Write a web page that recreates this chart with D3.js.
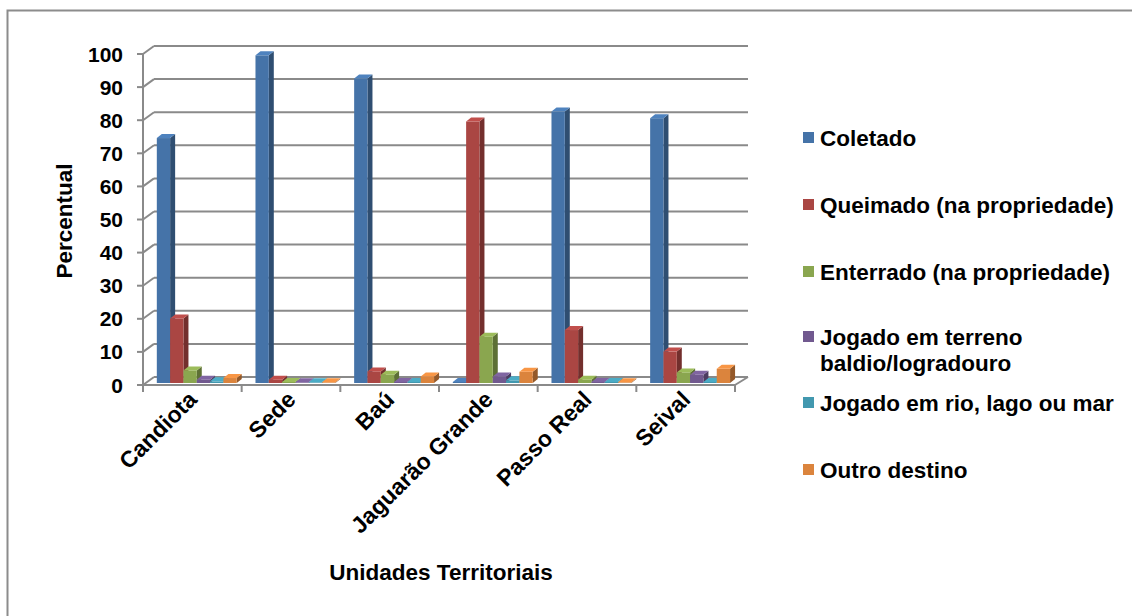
<!DOCTYPE html>
<html>
<head>
<meta charset="utf-8">
<script src="https://cdn.jsdelivr.net/npm/d3@7/dist/d3.min.js"></script>
<style>
  html, body { margin: 0; padding: 0; background: #fff; }
  svg { display: block; font-family: Arial, "Liberation Sans", sans-serif; }
</style>
</head>
<body>
<svg id="chart" width="1132" height="616"></svg>
<script>
// Destino do lixo por unidade territorial (%)
const categories = ["Candiota", "Sede", "Baú", "Jaguarão Grande", "Passo Real", "Seival"];
const seriesNames = [
  "Coletado",
  "Queimado (na propriedade)",
  "Enterrado (na propriedade)",
  "Jogado em terreno baldio/logradouro",
  "Jogado em rio, lago ou mar",
  "Outro destino"
];
const legendLines = [
  ["Coletado"],
  ["Queimado (na propriedade)"],
  ["Enterrado (na propriedade)"],
  ["Jogado em terreno", "baldio/logradouro"],
  ["Jogado em rio, lago ou mar"],
  ["Outro destino"]
];
const coletado  = [74, 99, 92, 0.3, 82, 80];
const queimado  = [19.5, 1, 3.5, 79, 16, 9.5];
const enterrado = [3.8, 0.3, 2.5, 14, 1, 3.2];
const terreno   = [1, 0.2, 0.3, 2, 0.3, 2.5];
const rio       = [0.5, 0.2, 0.3, 0.8, 0.3, 0.3];
const outro     = [1.5, 0.2, 2, 3.4, 0.2, 4.3];
const seriesValues = [coletado, queimado, enterrado, terreno, rio, outro];
const yTicks = [0, 10, 20, 30, 40, 50, 60, 70, 80, 90, 100];

const faceColors = ["#4573A8", "#AA4643", "#8AA64F", "#71598F", "#4298AF", "#DB843D"];

const svg = d3.select("#chart");

// outer chart frame
svg.append("rect")
  .attr("x", 7.5).attr("y", 10.5)
  .attr("width", 1140).attr("height", 620)
  .attr("fill", "none").attr("stroke", "#8c8c8c").attr("stroke-width", 2);

// plot geometry (front plane of the 3D box)
const x0 = 143, x1 = 735, yBase = 385, yTop = 54;
const wallDx = 11, wallDy = -8;   // depth of the back wall
const barDx = 5, barDy = -4;      // depth of each bar
const barShiftY = -2;             // bars stand slightly behind the front edge

const x = d3.scaleBand().domain(categories).range([x0, x1]).padding(0);
const xs = d3.scaleBand().domain(seriesNames)
  .range([x.bandwidth() * 0.14, x.bandwidth() * 0.95]).padding(0);
const y = d3.scaleLinear().domain([0, 100]).range([yBase, yTop]);

const grid = svg.append("g").attr("stroke", "#8a8a8a").attr("stroke-width", 2).attr("fill", "none");

// back wall gridlines with their diagonal joints to the front axis
yTicks.forEach(t => {
  const yy = y(t);
  grid.append("line")
    .attr("x1", x0 + wallDx).attr("x2", x1 + wallDx + 2)
    .attr("y1", yy + wallDy).attr("y2", yy + wallDy);
  grid.append("line")
    .attr("x1", x0).attr("x2", x0 + wallDx)
    .attr("y1", yy).attr("y2", yy + wallDy);
  grid.append("line")
    .attr("x1", x0 - 6).attr("x2", x0)
    .attr("y1", yy).attr("y2", yy);
});

// front vertical axis
grid.append("line").attr("x1", x0).attr("x2", x0).attr("y1", y(100)).attr("y2", yBase);

// floor: front edge and right side
grid.append("line").attr("x1", x0).attr("x2", x1).attr("y1", yBase).attr("y2", yBase);
grid.append("line").attr("x1", x1).attr("x2", x1 + wallDx + 2).attr("y1", yBase).attr("y2", yBase + wallDy);

// category tick marks
categories.concat([null]).forEach(c => {
  const xx = c === null ? x1 : x(c);
  grid.append("line").attr("x1", xx).attr("x2", xx).attr("y1", yBase).attr("y2", yBase + 7);
});

// bars
const bars = svg.append("g");
categories.forEach((cat, ci) => {
  seriesNames.forEach((s, si) => {
    const v = seriesValues[si][ci];
    const bx = x(cat) + xs(s);
    const bw = xs.bandwidth();
    const base = y(0) + barShiftY;
    const top = y(v) + barShiftY;
    const col = d3.color(faceColors[si]);
    const side = col.darker(1.1);
    const topCol = col.brighter(0.35);
    // side face
    bars.append("polygon")
      .attr("points", [[bx + bw, top], [bx + bw + barDx, top + barDy], [bx + bw + barDx, base + barDy], [bx + bw, base]].map(p => p.join(",")).join(" "))
      .attr("fill", side);
    // front face
    bars.append("rect")
      .attr("x", bx).attr("y", top)
      .attr("width", bw).attr("height", Math.max(0, base - top))
      .attr("fill", col);
    // top face
    bars.append("polygon")
      .attr("points", [[bx, top], [bx + barDx, top + barDy], [bx + bw + barDx, top + barDy], [bx + bw, top]].map(p => p.join(",")).join(" "))
      .attr("fill", topCol);
  });
});

// y tick labels
svg.append("g").selectAll("text").data(yTicks).join("text")
  .attr("x", 123).attr("y", d => y(d))
  .attr("dy", "0.36em")
  .attr("text-anchor", "end")
  .attr("font-size", 21).attr("font-weight", "bold").attr("fill", "#000")
  .text(d => d);

// y axis title
svg.append("text")
  .attr("transform", "translate(72,221) rotate(-90)")
  .attr("text-anchor", "middle")
  .attr("font-size", 22.5).attr("font-weight", "bold").attr("fill", "#000")
  .text("Percentual");

// category labels, rotated
svg.append("g").selectAll("text").data(categories).join("text")
  .attr("transform", d => `translate(${x(d) + x.bandwidth() / 2 + 6},${yBase + 16}) rotate(-45)`)
  .attr("text-anchor", "end")
  .attr("font-size", 23).attr("font-weight", "bold").attr("fill", "#000")
  .text(d => d);

// x axis title
svg.append("text")
  .attr("x", 441).attr("y", 580)
  .attr("text-anchor", "middle")
  .attr("font-size", 22.5).attr("font-weight", "bold").attr("fill", "#000")
  .text("Unidades Territoriais");

// legend
const legendY = [138, 205, 272, 337, 403, 470];
const legend = svg.append("g");
legendLines.forEach((lines, i) => {
  legend.append("rect")
    .attr("x", 803).attr("y", legendY[i] - 6)
    .attr("width", 11).attr("height", 11)
    .attr("fill", faceColors[i]);
  lines.forEach((ln, j) => {
    legend.append("text")
      .attr("x", 820).attr("y", legendY[i] + j * 26)
      .attr("dy", "0.36em")
      .attr("font-size", 22.5).attr("font-weight", "bold").attr("fill", "#000")
      .text(ln);
  });
});
</script>
</body>
</html>
